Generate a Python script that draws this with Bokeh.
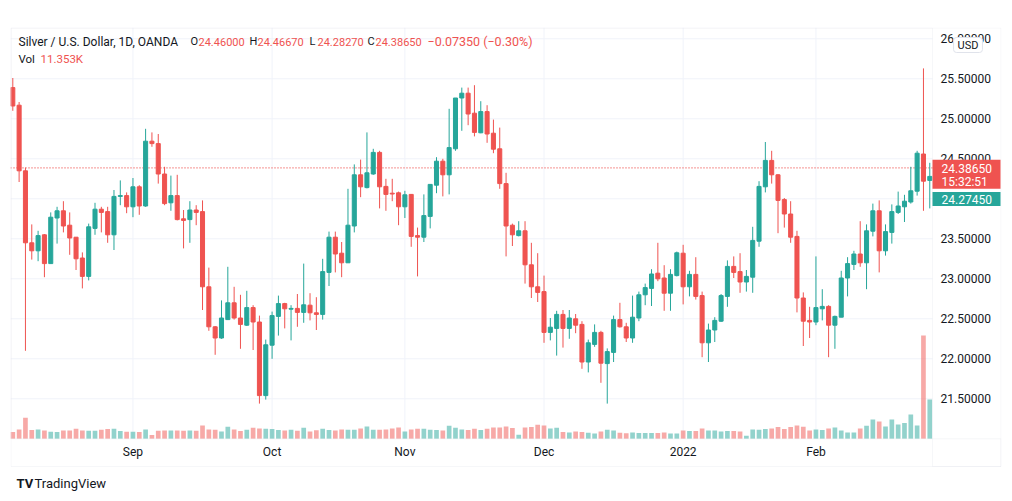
from bokeh.plotting import figure
from bokeh.models import Range1d, FixedTicker, NumeralTickFormatter, Label, BoxAnnotation, ColumnDataSource
from bokeh.embed import file_html
from bokeh.resources import INLINE

# ---------------- data (Silver / USD, daily, OANDA) ----------------
opens = [25.39, 25.17, 24.35, 23.45, 23.35, 23.55, 23.19, 23.76, 23.85, 23.67,
         23.52, 23.26, 23.03, 23.63, 23.87, 23.84, 23.55, 24.03, 24.04, 23.90,
         24.15, 23.91, 24.72, 24.69, 24.31, 23.95, 24.04, 23.75, 23.74, 23.86,
         23.84, 22.90, 22.40, 22.26, 22.49, 22.70, 22.51, 22.42, 22.64, 22.46,
         21.54, 22.17, 22.53, 22.69, 22.62, 22.63, 22.58, 22.67, 22.575, 22.555,
         23.08, 23.52, 23.32, 23.20, 23.66, 24.30, 24.14, 24.31, 24.58, 24.155,
         24.07, 24.075, 23.90, 24.055, 23.54, 23.52, 23.78, 24.17, 24.47, 24.30,
         24.625, 25.26, 25.32, 25.07, 24.825, 25.09, 24.82, 24.625, 24.19, 23.67,
         23.54, 23.60, 23.175, 22.90, 22.84, 22.33, 22.38, 22.555, 22.38, 22.50,
         22.43, 21.96, 22.18, 22.33, 21.94, 22.08, 22.49, 22.40, 22.26, 22.51,
         22.80, 22.88, 23.07, 23.01, 22.82, 23.04, 23.32, 22.90, 23.055, 22.79,
         22.20, 22.36, 22.47, 22.78, 23.155, 23.09, 22.96, 23.02, 23.47, 24.15,
         24.48, 24.30, 23.99, 23.81, 23.53, 22.76, 22.48, 22.46, 22.625, 22.655,
         22.42, 22.52, 23.01, 23.18, 23.31, 23.20, 23.595, 23.85, 23.35, 23.58,
         23.83, 23.90, 23.96, 24.095, 24.56, 24.23]
highs = [25.51, 25.21, 24.39, 23.68, 23.60, 23.56, 23.83, 23.90, 23.97, 23.83,
         23.52, 23.33, 23.69, 23.95, 23.90, 23.90, 24.11, 24.23, 24.08, 24.26,
         24.17, 24.875, 24.83, 24.81, 24.40, 24.29, 24.30, 23.86, 23.97, 23.92,
         23.98, 23.14, 22.41, 22.73, 23.15, 22.90, 22.80, 22.85, 22.67, 22.54,
         22.24, 22.59, 22.79, 22.70, 22.67, 22.81, 23.19, 22.82, 22.77, 23.25,
         23.59, 23.59, 23.46, 24.125, 24.43, 24.49, 24.83, 24.625, 24.60, 24.25,
         24.25, 24.09, 24.10, 24.06, 23.64, 24.055, 24.18, 24.52, 24.50, 25.125,
         25.26, 25.39, 25.39, 25.42, 25.22, 25.17, 24.99, 24.89, 24.325, 23.69,
         23.72, 23.72, 23.45, 23.32, 23.04, 22.51, 22.60, 22.61, 22.61, 22.56,
         22.47, 22.24, 22.43, 22.35, 22.13, 22.54, 22.70, 22.45, 22.79, 22.84,
         22.94, 23.12, 23.45, 23.17, 23.12, 23.34, 23.425, 23.10, 23.27, 22.84,
         22.44, 22.52, 22.81, 23.23, 23.28, 23.32, 23.11, 23.65, 24.22, 24.71,
         24.60, 24.31, 24.01, 23.97, 23.60, 22.83, 22.65, 23.28, 22.87, 22.67,
         22.54, 23.10, 23.27, 23.35, 23.72, 23.68, 23.94, 23.98, 23.68, 23.93,
         24.09, 24.05, 24.40, 24.60, 25.63, 24.45]
lows = [25.10, 24.21, 22.10, 23.24, 23.22, 23.02, 23.19, 23.44, 23.58, 23.30,
        23.11, 22.88, 22.98, 23.55, 23.58, 23.45, 23.36, 23.92, 23.82, 23.77,
        23.80, 23.90, 24.65, 24.19, 23.92, 23.85, 23.73, 23.38, 23.45, 23.67,
        22.61, 22.35, 22.05, 22.25, 22.49, 22.49, 22.125, 22.41, 22.11, 21.44,
        21.49, 22.00, 22.29, 22.38, 22.23, 22.40, 22.45, 22.48, 22.36, 22.49,
        22.91, 23.08, 23.02, 23.20, 23.58, 24.02, 24.13, 24.30, 23.88, 23.85,
        23.97, 23.67, 23.76, 23.40, 23.03, 23.46, 23.63, 24.07, 24.03, 24.055,
        24.60, 24.85, 24.92, 24.78, 24.82, 24.70, 24.57, 24.125, 23.28, 23.41,
        23.53, 22.94, 22.76, 22.71, 22.20, 22.23, 22.04, 22.14, 22.25, 22.32,
        21.875, 21.83, 22.15, 21.70, 21.44, 21.96, 22.39, 22.21, 22.20, 22.47,
        22.67, 22.66, 22.97, 22.60, 22.60, 23.03, 22.68, 22.78, 22.74, 22.02,
        21.96, 22.21, 22.46, 22.65, 23.01, 22.825, 22.84, 22.825, 23.40, 24.08,
        24.19, 23.57, 23.64, 23.45, 22.58, 22.16, 22.26, 22.42, 22.48, 22.02,
        22.125, 22.52, 22.78, 23.11, 23.15, 22.87, 23.53, 23.08, 23.29, 23.44,
        23.81, 23.71, 23.94, 24.04, 23.85, 23.88]
closes = [25.16, 24.35, 23.45, 23.35, 23.54, 23.19, 23.77, 23.85, 23.66, 23.51,
          23.25, 23.03, 23.65, 23.87, 23.83, 23.55, 24.03, 24.04, 23.90, 24.15,
          23.91, 24.72, 24.69, 24.31, 23.94, 24.04, 23.74, 23.73, 23.86, 23.83,
          22.90, 22.40, 22.26, 22.51, 22.70, 22.51, 22.43, 22.64, 22.46, 21.54,
          22.175, 22.54, 22.69, 22.625, 22.63, 22.58, 22.675, 22.575, 22.555, 23.09,
          23.52, 23.31, 23.20, 23.67, 24.30, 24.15, 24.325, 24.58, 24.15, 24.055,
          24.06, 23.90, 24.05, 23.53, 23.52, 23.79, 24.18, 24.47, 24.30, 24.64,
          25.26, 25.32, 25.06, 24.83, 25.09, 24.81, 24.62, 24.19, 23.66, 23.55,
          23.60, 23.175, 22.90, 22.83, 22.33, 22.395, 22.555, 22.38, 22.51, 22.42,
          21.96, 22.20, 22.33, 21.945, 22.09, 22.49, 22.40, 22.26, 22.52, 22.80,
          22.89, 23.06, 23.00, 22.82, 23.055, 23.325, 22.90, 23.055, 22.78, 22.20,
          22.36, 22.48, 22.79, 23.155, 23.08, 22.96, 23.03, 23.48, 24.155, 24.48,
          24.30, 23.98, 23.81, 23.52, 22.76, 22.47, 22.46, 22.64, 22.655, 22.42,
          22.53, 23.01, 23.19, 23.31, 23.20, 23.60, 23.85, 23.35, 23.59, 23.84,
          23.91, 23.97, 24.10, 24.57, 24.22, 24.28]
volumes_k = [1.94, 2.69, 6.07, 2.51, 2.69, 2.40, 2.02, 1.94, 2.40, 2.40,
             2.89, 2.40, 2.31, 2.31, 2.60, 2.80, 2.89, 2.23, 2.02, 2.02,
             1.94, 2.69, 1.07, 2.31, 2.40, 2.40, 2.40, 2.31, 2.40, 2.31,
             3.84, 2.69, 2.60, 2.11, 3.47, 2.69, 2.23, 2.60, 3.18, 2.98,
             2.89, 2.80, 2.51, 2.40, 2.60, 2.31, 3.18, 2.11, 2.45, 2.89,
             2.51, 2.40, 2.69, 2.60, 2.60, 2.98, 3.55, 2.60, 2.60, 2.69,
             2.98, 3.27, 2.11, 2.69, 2.89, 2.89, 2.60, 2.51, 2.40, 3.76,
             3.18, 2.69, 2.51, 2.89, 2.51, 2.89, 3.27, 3.27, 3.55, 3.09,
             1.16, 3.27, 3.38, 4.05, 3.84, 2.98, 3.18, 1.94, 1.82, 2.11,
             1.94, 1.73, 1.53, 2.11, 2.60, 2.40, 1.73, 1.59, 1.82, 1.65,
             1.65, 1.65, 1.65, 1.82, 1.53, 1.53, 2.40, 2.23, 2.23, 2.98,
             2.40, 2.40, 2.11, 2.23, 2.23, 2.11, 0.87, 2.69, 2.60, 2.80,
             2.98, 3.38, 2.80, 3.38, 3.84, 3.47, 2.40, 2.69, 2.51, 2.98,
             3.27, 2.40, 1.82, 1.82, 2.98, 3.76, 5.58, 5.00, 3.55, 5.58,
             4.13, 4.54, 7.02, 3.84, 29.85, 11.353]
tick_index = [19, 41, 62, 84, 106, 127]
tick_labels = ["Sep", "Oct", "Nov", "Dec", "2022", "Feb"]
price_ticks = [21.5, 22.0, 22.5, 23.0, 23.5, 24.0, 24.5, 25.0, 25.5, 26.0]
last_price = 24.3865
second_price = 24.2745
header_title = "Silver / U.S. Dollar, 1D, OANDA"
header_ohlc = [("O", "24.46000"), ("H", "24.46670"), ("L", "24.28270"), ("C", "24.38650")]
header_change = "\u22120.07350 (\u22120.30%)"
vol_text = "11.353K"
countdown = "15:32:51"

# ---------------- styling / layout ----------------
UP, DOWN = "#26a69a", "#ef5350"
TXT = "#131722"
GRID = "#f0f3fa"
BORDER = "#e0e3eb"
FONT = "Roboto"

W, H = 1008, 497
# canvas pixels: frame covers the whole widget (incl. scale areas and logo row)
FL, FT, FR, FBOT = 10, 27, 1001, 495
PANE_R, PANE_B, WIDGET_B = 932, 438.3, 466
X0_PX, BAR_PX = 12.3, 6.324          # first bar centre, bar spacing
Y_REF_PX, Y_REF, PX_PER_UNIT = 78.3, 25.5, 80.0
VOL_PER_PX = 0.289


def xd(px):
    return (px - X0_PX) / BAR_PX


def yd(py):
    return Y_REF - (py - Y_REF_PX) / PX_PER_UNIT


n = len(opens)
xs = list(range(n))
col = [UP if c >= o else DOWN for o, c in zip(opens, closes)]
src = ColumnDataSource(dict(
    x=xs, h=highs, l=lows,
    top=[max(o, c) for o, c in zip(opens, closes)],
    bot=[min(o, c) for o, c in zip(opens, closes)],
    vol=volumes_k, col=col))

p = figure(width=W, height=H, output_backend="svg", toolbar_location=None,
           x_range=Range1d(xd(FL), xd(FR)), y_range=Range1d(yd(FBOT), yd(FT)),
           y_axis_location="right",
           min_border_left=FL, min_border_right=W - FR,
           min_border_top=FT, min_border_bottom=H - FBOT)
p.background_fill_color = "white"
p.border_fill_color = "white"
p.outline_line_color = None
p.xgrid.visible = False
p.ygrid.visible = False
p.extra_y_ranges = {"vol": Range1d(-(FBOT - PANE_B) * VOL_PER_PX, (PANE_B - FT) * VOL_PER_PX)}

# grid lines restricted to the price pane
p.segment(x0=xd(FL), x1=xd(PANE_R), y0=price_ticks, y1=price_ticks, line_color=GRID, line_width=1)
p.segment(x0=tick_index, x1=tick_index, y0=yd(PANE_B), y1=yd(FT), line_color=GRID, line_width=1)

# axes pinned to the pane edges
ya = p.yaxis[0]
ya.fixed_location = xd(PANE_R)
ya.ticker = FixedTicker(ticks=price_ticks)
ya.formatter = NumeralTickFormatter(format="0.00000")
ya.axis_line_color = None
ya.major_tick_line_color = None
ya.minor_tick_line_color = None
ya.major_tick_out = 0
ya.major_tick_in = 0
ya.major_label_standoff = 8
ya.major_label_text_font = FONT
ya.major_label_text_font_size = "12px"
ya.major_label_text_color = TXT

xa = p.xaxis[0]
xa.fixed_location = yd(PANE_B)
xa.ticker = FixedTicker(ticks=tick_index)
xa.major_label_overrides = {i: t for i, t in zip(tick_index, tick_labels)}
xa.axis_line_color = None
xa.major_tick_line_color = None
xa.minor_tick_line_color = None
xa.major_tick_out = 0
xa.major_tick_in = 0
xa.major_label_standoff = 6
xa.major_label_text_font = FONT
xa.major_label_text_font_size = "12px"
xa.major_label_text_color = TXT

# volume
p.vbar(x="x", top="vol", bottom=0, width=0.74, y_range_name="vol", source=src,
       fill_color="col", fill_alpha=0.5, line_color=None)

# last price dotted line
p.segment(x0=xd(FL), x1=xd(PANE_R), y0=last_price, y1=last_price,
          line_color=DOWN, line_dash="1 2", line_width=1.2)

# candles
p.segment(x0="x", y0="l", x1="x", y1="h", source=src, line_color="col", line_width=1)
p.vbar(x="x", top="top", bottom="bot", width=0.64, source=src,
       fill_color="col", line_color="col", line_width=1)


def box(l, t, r, b, **kw):
    return BoxAnnotation(left=l - FL, right=r - FL, top=FBOT - t, bottom=FBOT - b,
                         left_units="screen", right_units="screen",
                         top_units="screen", bottom_units="screen", **kw)


# widget borders
p.add_layout(box(FL + 0.5, FT + 0.5, FR - 0.5, WIDGET_B, fill_alpha=0, line_color=BORDER, line_width=1))
p.add_layout(box(FL + 0.5, FT + 0.5, PANE_R, PANE_B, fill_alpha=0, line_color=BORDER, line_width=1))
p.add_layout(box(PANE_R, PANE_B, FR - 0.5, WIDGET_B, fill_alpha=0, line_color=BORDER, line_width=1))


def lab(text, px, py, color=TXT, size="12px", align="left", **kw):
    return Label(x=px - FL, y=FBOT - py, x_units="screen", y_units="screen", text=text,
                 text_color=color, text_font=FONT, text_font_size=size,
                 text_align=align, text_baseline="middle", **kw)


# header legend
p.add_layout(lab(header_title, 18, 41))
for (k, v), x in zip(header_ohlc, [190, 249, 309, 367]):
    p.add_layout(lab(k, x, 41, size="11px"))
    p.add_layout(lab(v, x + 8, 41, color=DOWN, size="11px"))
p.add_layout(lab(header_change, 427, 41, color=DOWN, size="12.5px"))
p.add_layout(lab("Vol", 18, 58, size="11.5px"))
p.add_layout(lab(vol_text, 40, 58, color=DOWN, size="11.5px"))

# price tags on the scale
p.add_layout(box(PANE_R, 159.3, FR - 1, 188.3, fill_color=DOWN, fill_alpha=1, line_color=None))
p.add_layout(box(PANE_R, 191.5, FR - 1, 205.5, fill_color=UP, fill_alpha=1, line_color=None))
p.add_layout(lab(f"{last_price:.5f}", 941, 167.5, color="white"))
p.add_layout(lab(countdown, 941, 181, color="white"))
p.add_layout(lab(f"{second_price:.5f}", 941, 198.5, color="white"))
p.add_layout(lab("USD", 967.5, 44.5, size="11px", align="center",
                 background_fill_color="white", border_line_color=BORDER,
                 border_radius=3, padding=dict(left=4, right=4, top=1, bottom=1)))

# branding
p.add_layout(lab("TV", 16, 483, size="13px", text_font_style="bold"))
p.add_layout(lab("TradingView", 34, 483, size="13px"))

open("out.html", "w").write(file_html(p, INLINE))
